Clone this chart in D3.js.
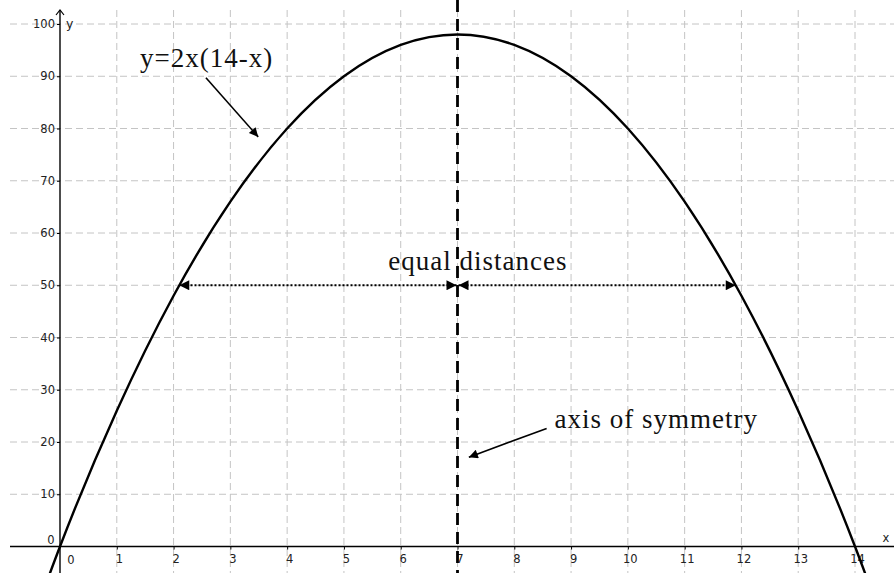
<!DOCTYPE html>
<html>
<head>
<meta charset="utf-8">
<script src="https://cdn.jsdelivr.net/npm/d3@7"></script>
<style>
  body { margin: 0; background: #fff; }
  svg { display: block; }
  .note { font-family: "Liberation Serif", "Times New Roman", serif; font-size: 27px; fill: #111; letter-spacing: 1px; }
</style>
</head>
<body>
<svg id="chart"></svg>
<script>
// values
var curveX = [-1, 0, 1, 2, 3, 4, 5, 6, 7, 8, 9, 10, 11, 12, 13, 14, 15]
var curveY = [-30, 0, 26, 48, 66, 80, 90, 96, 98, 96, 90, 80, 66, 48, 26, 0, -30]
var xTicks = [1, 2, 3, 4, 5, 6, 7, 8, 9, 10, 11, 12, 13, 14]
var yTicks = [10, 20, 30, 40, 50, 60, 70, 80, 90, 100]
var symmetryX = 7
var levelY = 50
var levelLeftX = 2.1
var levelRightX = 11.9

var width = 894, height = 573

var svg = d3.select("#chart")
    .attr("width", width)
    .attr("height", height)

var x = d3.scaleLinear().domain([0, 14]).range([60, 855])
var y = d3.scaleLinear().domain([0, 100]).range([546.5, 24])

var defs = svg.append("defs")
defs.append("marker")
    .attr("id", "tri")
    .attr("viewBox", "0 0 10 10")
    .attr("refX", 10).attr("refY", 5)
    .attr("markerWidth", 16).attr("markerHeight", 10)
    .attr("markerUnits", "userSpaceOnUse")
    .attr("orient", "auto-start-reverse")
    .append("path").attr("d", "M0,0L10,5L0,10z").attr("fill", "#000")
defs.append("marker")
    .attr("id", "tri2")
    .attr("viewBox", "0 0 10 10")
    .attr("refX", 10).attr("refY", 5)
    .attr("markerWidth", 16).attr("markerHeight", 9)
    .attr("markerUnits", "userSpaceOnUse")
    .attr("orient", "auto")
    .append("path").attr("d", "M0,0L10,5L0,10z").attr("fill", "#000")
defs.append("clipPath").attr("id", "plotclip")
    .append("rect").attr("x", 0).attr("y", 0).attr("width", width).attr("height", height)

// grid
var grid = svg.append("g")
    .attr("stroke", "#c4c4c4")
    .attr("stroke-width", 1)
    .attr("stroke-dasharray", "7,4")
grid.selectAll(".vg").data(xTicks).enter().append("line")
    .attr("x1", d => x(d)).attr("x2", d => x(d))
    .attr("y1", 10).attr("y2", height)
grid.selectAll(".hg").data(yTicks).enter().append("line")
    .attr("x1", 10).attr("x2", width)
    .attr("y1", d => y(d)).attr("y2", d => y(d))

var labelFont = g => g
    .attr("font-family", "DejaVu Sans, sans-serif")
    .attr("font-size", 11.5)
    .attr("fill", "#222")

// x axis
var xAxis = svg.append("g")
    .attr("transform", "translate(0," + y(0) + ")")
    .call(d3.axisBottom(x).tickValues(xTicks).tickSize(3).tickPadding(5).tickFormat(d3.format("d")))
xAxis.select(".domain").remove()
xAxis.selectAll(".tick line").attr("stroke", "#000")
xAxis.selectAll(".tick text").attr("dx", 2).call(labelFont)
xAxis.append("line")
    .attr("x1", 10).attr("x2", width)
    .attr("stroke", "#000").attr("stroke-width", 1.4)
xAxis.append("text")
    .attr("x", x(0) + 11).attr("y", 17)
    .call(labelFont)
    .attr("text-anchor", "middle").text("0")
xAxis.append("text")
    .attr("x", 886).attr("y", -5)
    .call(labelFont)
    .attr("text-anchor", "middle").text("x")

// y axis
var yAxis = svg.append("g")
    .attr("transform", "translate(" + x(0) + ",0)")
    .call(d3.axisLeft(y).tickValues(yTicks).tickSize(3).tickPadding(2).tickFormat(d3.format("d")))
yAxis.select(".domain").remove()
yAxis.selectAll(".tick line").attr("stroke", "#000")
yAxis.selectAll(".tick text").call(labelFont)
yAxis.append("line")
    .attr("y1", 10).attr("y2", height)
    .attr("stroke", "#000").attr("stroke-width", 1.4)
yAxis.append("path")
    .attr("d", "M-4,15L0,10L4,15")
    .attr("fill", "none").attr("stroke", "#000").attr("stroke-width", 1.2)
yAxis.append("text")
    .attr("x", -9).attr("y", y(0) - 3)
    .call(labelFont)
    .attr("text-anchor", "middle").text("0")
yAxis.append("text")
    .attr("x", 6).attr("y", 28)
    .call(labelFont)
    .attr("font-size", 12.5)
    .attr("text-anchor", "start")
    .text("y")

// parabola
var pts = curveX.map((d, i) => [d, curveY[i]])
var line = d3.line()
    .x(d => x(d[0]))
    .y(d => y(d[1]))
    .curve(d3.curveNatural)
svg.append("path")
    .datum(pts)
    .attr("clip-path", "url(#plotclip)")
    .attr("d", line)
    .attr("fill", "none")
    .attr("stroke", "#000")
    .attr("stroke-width", 2.4)

// axis of symmetry
svg.append("line")
    .attr("x1", x(symmetryX)).attr("x2", x(symmetryX))
    .attr("y1", 0).attr("y2", height)
    .attr("stroke", "#000")
    .attr("stroke-width", 2.8)
    .attr("stroke-dasharray", "12,7")

// equal distance arrows
var dist = svg.append("g")
    .attr("stroke", "#000")
    .attr("stroke-width", 2)
    .attr("stroke-dasharray", "2,2")
dist.append("line")
    .attr("x1", x(symmetryX) - 1).attr("x2", x(levelLeftX))
    .attr("y1", y(levelY)).attr("y2", y(levelY))
    .attr("marker-start", "url(#tri)").attr("marker-end", "url(#tri)")
dist.append("line")
    .attr("x1", x(symmetryX) + 1).attr("x2", x(levelRightX))
    .attr("y1", y(levelY)).attr("y2", y(levelY))
    .attr("marker-start", "url(#tri)").attr("marker-end", "url(#tri)")

// annotations
svg.append("text").attr("class", "note")
    .attr("x", x(1.41)).attr("y", y(91.8))
    .text("y=2x(14-x)")
svg.append("line")
    .attr("x1", x(2.57)).attr("y1", y(89.7))
    .attr("x2", x(3.49)).attr("y2", y(78.4))
    .attr("stroke", "#000").attr("stroke-width", 1.6)
    .attr("marker-end", "url(#tri2)")

svg.append("text").attr("class", "note")
    .attr("x", x(7.36)).attr("y", y(52.9))
    .attr("text-anchor", "middle")
    .text("equal distances")

svg.append("text").attr("class", "note")
    .attr("x", x(8.71)).attr("y", y(22.7))
    .text("axis of symmetry")
svg.append("line")
    .attr("x1", x(8.57)).attr("y1", y(22.6))
    .attr("x2", x(7.2)).attr("y2", y(17.1))
    .attr("stroke", "#000").attr("stroke-width", 1.6)
    .attr("marker-end", "url(#tri2)")
</script>
</body>
</html>
